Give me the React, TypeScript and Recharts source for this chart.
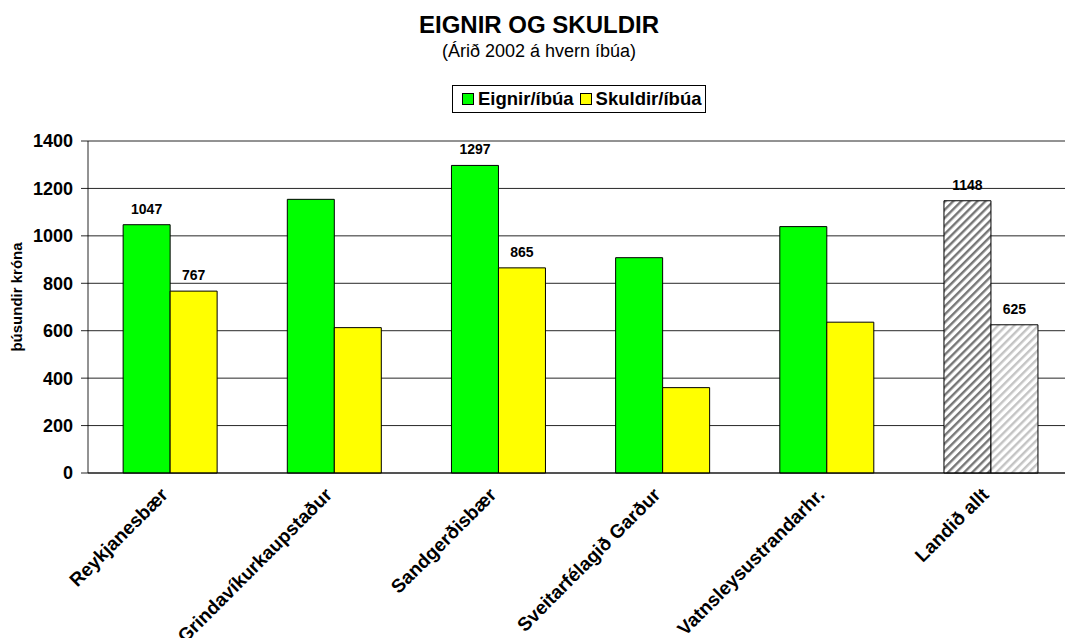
import { BarChart, Bar, XAxis, YAxis, CartesianGrid, Legend, LabelList, Cell } from 'recharts';

const categories = [
  'Reykjanesbær',
  'Grindavíkurkaupstaður',
  'Sandgerðisbær',
  'Sveitarfélagið Garður',
  'Vatnsleysustrandarhr.',
  'Landið allt',
];
const eignir = [1047, 1154, 1297, 908, 1039, 1148];
const skuldir = [767, 613, 865, 360, 636, 625];
const labelShown = [true, false, true, false, false, true];
const yTicks = [0, 200, 400, 600, 800, 1000, 1200, 1400];
const edgeTicks = [0, 1, 2, 3, 4, 5, 6];

const FONT = '"Liberation Sans", Arial, sans-serif';
const TOTAL = 'Landið allt';

const data = categories.map((name, i) => ({
  name,
  eignir: eignir[i],
  skuldir: skuldir[i],
  eignirLabel: labelShown[i] ? eignir[i] : null,
  skuldirLabel: labelShown[i] ? skuldir[i] : null,
}));

const ValueLabel = (props: any) => {
  const { x, y, width, value } = props;
  if (value == null) return null;
  return (
    <text x={x + width / 2} y={y - 11} textAnchor="middle" fontSize={14} fontWeight="bold" fontFamily={FONT} fill="#000">
      {value}
    </text>
  );
};

// anchor of the rotated label sits just below the axis, right end at the category centre
const CategoryTick = ({ x, y, payload }: any) => (
  <g transform={`translate(${x - 1},${y + 15})`}>
    <text transform="rotate(-45)" textAnchor="end" fontSize={19} fontWeight="bold" fontFamily={FONT} fill="#000">
      {payload.value}
    </text>
  </g>
);

const YLabel = ({ viewBox }: any) => {
  const cx = viewBox.x + 22;
  const cy = viewBox.y + viewBox.height / 2 - 10;
  return (
    <text x={cx} y={cy} transform={`rotate(-90, ${cx}, ${cy})`} textAnchor="middle" fontSize={15} fontWeight="bold" fontFamily={FONT} fill="#000">
      þúsundir króna
    </text>
  );
};

const swatch = (color: string) => (
  <span style={{ display: 'inline-block', width: 10, height: 10, border: '1px solid #000', background: color, marginRight: 4 }} />
);

const LegendBox = () => (
  <div
    style={{
      display: 'inline-flex',
      alignItems: 'center',
      height: 26,
      border: '1px solid #000',
      background: '#fff',
      padding: '0 4px 0 9px',
      fontFamily: FONT,
      fontWeight: 'bold',
      fontSize: 18.5,
      color: '#000',
      whiteSpace: 'nowrap',
    }}
  >
    {swatch('#00ff00')}
    <span style={{ marginRight: 6 }}>Eignir/íbúa</span>
    {swatch('#ffff00')}
    <span>Skuldir/íbúa</span>
  </div>
);

export default function App() {
  return (
    <div style={{ position: 'absolute', left: 0, top: 0, width: 1065, height: 638, overflow: 'hidden', background: '#fff' }}>
      <svg width={0} height={0} style={{ position: 'absolute' }}>
        <defs>
          <pattern id="hatchDark" width={5.7} height={5.7} patternUnits="userSpaceOnUse" patternTransform="rotate(45)">
            <rect width={5.7} height={5.7} fill="#fff" />
            <rect width={2.4} height={5.7} fill="#777" />
          </pattern>
          <pattern id="hatchLight" width={5.7} height={5.7} patternUnits="userSpaceOnUse" patternTransform="rotate(45)">
            <rect width={5.7} height={5.7} fill="#fff" />
            <rect width={2.4} height={5.7} fill="#c4c4c4" />
          </pattern>
        </defs>
      </svg>
      <div
        style={{
          position: 'absolute',
          left: 0,
          width: 1078,
          top: 13,
          textAlign: 'center',
          fontFamily: FONT,
          fontWeight: 'bold',
          fontSize: 24,
          lineHeight: '24px',
          zIndex: 2,
        }}
      >
        EIGNIR OG SKULDIR
      </div>
      <div
        style={{
          position: 'absolute',
          left: 0,
          width: 1078,
          top: 42,
          textAlign: 'center',
          fontFamily: FONT,
          fontSize: 18,
          lineHeight: '18px',
          zIndex: 2,
        }}
      >
        (Árið 2002 á hvern íbúa)
      </div>
      <BarChart
        width={1090}
        height={638}
        data={data}
        margin={{ top: 141, right: 17, bottom: 7, left: 0 }}
        barGap={0}
        barCategoryGap="21.4%"
      >
        <CartesianGrid xAxisId="b_cat" vertical={false} stroke="#000" strokeOpacity={0.85} />
        <XAxis
          xAxisId="b_cat"
          dataKey="name"
          interval={0}
          height={150}
          tickLine={false}
          axisLine={false}
          tickSize={0}
          tickMargin={0}
          tick={<CategoryTick />}
        />
        <XAxis
          xAxisId="a_edge"
          type="number"
          domain={[0, 6]}
          ticks={edgeTicks}
          tick={false}
          tickSize={7}
          height={8}
          stroke="#000"
          strokeOpacity={0.85}
        />
        <YAxis
          width={88}
          domain={[0, 1400]}
          ticks={yTicks}
          interval={0}
          tickSize={7}
          tickMargin={8}
          stroke="#000"
          strokeOpacity={0.85}
          tick={{ fontSize: 18, fontWeight: 'bold', fill: '#000', fontFamily: FONT }}
          label={{ content: YLabel }}
        />
        <Legend
          layout="horizontal"
          verticalAlign="middle"
          align="center"
          content={<LegendBox />}
          wrapperStyle={{ top: 85, left: 452, width: 'auto', height: 'auto' }}
        />
        <Bar xAxisId="b_cat" dataKey="eignir" name="Eignir/íbúa" fill="#00ff00" stroke="#000" strokeWidth={1} isAnimationActive={false}>
          {data.map((d) => (
            <Cell key={d.name} fill={d.name === TOTAL ? 'url(#hatchDark)' : '#00ff00'} />
          ))}
          <LabelList dataKey="eignirLabel" content={ValueLabel} />
        </Bar>
        <Bar xAxisId="b_cat" dataKey="skuldir" name="Skuldir/íbúa" fill="#ffff00" stroke="#000" strokeWidth={1} isAnimationActive={false}>
          {data.map((d) => (
            <Cell key={d.name} fill={d.name === TOTAL ? 'url(#hatchLight)' : '#ffff00'} />
          ))}
          <LabelList dataKey="skuldirLabel" content={ValueLabel} />
        </Bar>
      </BarChart>
    </div>
  );
}
